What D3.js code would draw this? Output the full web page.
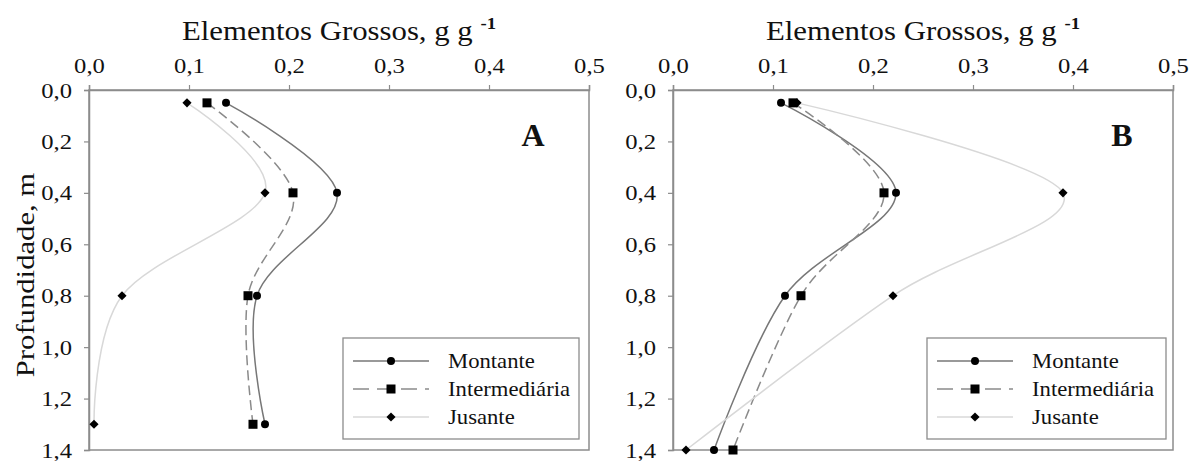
<!DOCTYPE html>
<html>
<head>
<meta charset="utf-8">
<script src="https://cdn.jsdelivr.net/npm/d3@7"></script>
<style>
  body { margin: 0; background: #fff; }
  svg { display: block; }
  text { font-family: "Liberation Serif", "Times New Roman", serif; fill: #111; }
</style>
</head>
<body>
<svg id="chart" width="1199" height="461"></svg>
<script>
// Series and tick values
const seriesNames = ["Montante", "Intermediária", "Jusante"];
const xTicks = [0, 0.1, 0.2, 0.3, 0.4, 0.5];
const yTicks = [0, 0.2, 0.4, 0.6, 0.8, 1.0, 1.2, 1.4];

const depthA = [0.05, 0.4, 0.8, 1.3];
const montanteA = [0.137, 0.248, 0.168, 0.176];
const intermediariaA = [0.118, 0.204, 0.159, 0.164];
const jusanteA = [0.098, 0.176, 0.033, 0.005];

const depthB = [0.05, 0.4, 0.8, 1.4];
const montanteB = [0.108, 0.223, 0.112, 0.041];
const intermediariaB = [0.120, 0.211, 0.128, 0.060];
const jusanteB = [0.124, 0.390, 0.220, 0.013];

const xTitle = "Elementos Grossos, g g ";
const xTitleSup = "-1";
const yTitle = "Profundidade, m";

// Styles per series
const styles = [
  { stroke: "#777", dash: null, symbol: "circle" },
  { stroke: "#8a8a8a", dash: "10,5", symbol: "square" },
  { stroke: "#d8d8d8", dash: null, symbol: "diamond" }
];

const svg = d3.select("#chart");
const fmt = v => d3.format(".1f")(v).replace(".", ",");

function marker(g, type, x, y) {
  if (type === "circle") {
    g.append("circle").attr("cx", x).attr("cy", y).attr("r", 4).attr("fill", "#000");
  } else if (type === "square") {
    g.append("rect").attr("x", x - 4.5).attr("y", y - 4.5).attr("width", 9).attr("height", 9).attr("fill", "#000");
  } else {
    g.append("path")
      .attr("d", d3.symbol(d3.symbolSquare, 42)())
      .attr("transform", `translate(${x},${y}) rotate(45)`)
      .attr("fill", "#000");
  }
}

function panel(opts) {
  const { left, right, top, bottom, depth, series, letter, legend, showYTitle } = opts;
  const x = d3.scaleLinear().domain([0, 0.5]).range([left, right]);
  const y = d3.scaleLinear().domain([0, 1.4]).range([top, bottom]);
  const g = svg.append("g");

  // frame
  g.append("rect")
    .attr("x", left).attr("y", top)
    .attr("width", right - left).attr("height", bottom - top)
    .attr("fill", "none").attr("stroke", "#8c8c8c").attr("stroke-width", 1.5);

  // top axis
  const TS = 1.12;
  const ax = g.append("g").attr("transform", `translate(0,${top})`)
    .call(d3.axisTop(x).tickValues(xTicks).tickSize(5).tickPadding(12).tickFormat(fmt));
  ax.select(".domain").attr("stroke", "#8c8c8c").attr("stroke-width", 1.5);
  ax.selectAll(".tick line").attr("stroke", "#8c8c8c").attr("stroke-width", 1.2);
  ax.selectAll(".tick text")
    .attr("font-size", 22).attr("fill", "#111")
    .attr("transform", `scale(${TS},1)`);

  // left axis
  const ay = g.append("g").attr("transform", `translate(${left},0)`)
    .call(d3.axisLeft(y).tickValues(yTicks).tickSize(5).tickPadding(12).tickFormat(fmt));
  ay.select(".domain").attr("stroke", "#8c8c8c").attr("stroke-width", 1.5);
  ay.selectAll(".tick line").attr("stroke", "#8c8c8c").attr("stroke-width", 1.2);
  ay.selectAll(".tick text")
    .attr("font-size", 22).attr("fill", "#111")
    .attr("x", -17 / TS)
    .attr("transform", `scale(${TS},1)`);

  // axis title with superscript
  const t = g.append("text")
    .attr("transform", `translate(${(left + right) / 2},40) scale(1.1,1)`)
    .attr("text-anchor", "middle").attr("font-size", 28);
  t.append("tspan").text(xTitle);
  t.append("tspan").text(xTitleSup).attr("font-size", 17).attr("font-weight", "bold").attr("dy", -11);

  if (showYTitle) {
    g.append("text")
      .attr("transform", `translate(34,${(top + bottom) / 2 + 5}) rotate(-90) scale(1.18,1)`)
      .attr("text-anchor", "middle").attr("font-size", 26)
      .text(yTitle);
  }

  // smoothed lines
  const line = d3.line()
    .x(d => x(d[0])).y(d => y(d[1]))
    .curve(d3.curveCatmullRom.alpha(0));
  series.forEach((vals, i) => {
    const pts = vals.map((v, j) => [v, depth[j]]);
    g.append("path")
      .attr("d", line(pts))
      .attr("fill", "none")
      .attr("stroke", styles[i].stroke)
      .attr("stroke-width", 1.5)
      .attr("stroke-dasharray", styles[i].dash);
  });
  series.forEach((vals, i) => {
    vals.forEach((v, j) => marker(g, styles[i].symbol, x(v), y(depth[j])));
  });

  // panel letter
  g.append("text")
    .attr("x", letter.x).attr("y", 146)
    .attr("text-anchor", "middle").attr("font-size", 32).attr("font-weight", "bold")
    .text(letter.text);

  // legend
  const lg = g.append("g");
  lg.append("rect")
    .attr("x", legend.x).attr("y", 338)
    .attr("width", legend.w).attr("height", 101)
    .attr("fill", "#fff").attr("stroke", "#8c8c8c").attr("stroke-width", 1.3);
  const rows = [361, 389, 417];
  seriesNames.forEach((name, i) => {
    const ry = rows[i];
    const x0 = legend.x + 10, x1 = legend.x + 86, xm = (x0 + x1) / 2;
    lg.append("line")
      .attr("x1", x0).attr("x2", x1).attr("y1", ry).attr("y2", ry)
      .attr("stroke", styles[i].stroke).attr("stroke-width", 1.5)
      .attr("stroke-dasharray", styles[i].dash ? "16,8" : null);
    marker(lg, styles[i].symbol, xm, ry);
    lg.append("text")
      .attr("transform", `translate(${legend.x + 105},${ry + 7}) scale(1.08,1)`)
      .attr("font-size", 21)
      .text(name);
  });
}

panel({
  left: 89, right: 589, top: 90, bottom: 450,
  depth: depthA,
  series: [montanteA, intermediariaA, jusanteA],
  letter: { text: "A", x: 533 },
  legend: { x: 343, w: 236 },
  showYTitle: true
});

panel({
  left: 673, right: 1173, top: 90, bottom: 450,
  depth: depthB,
  series: [montanteB, intermediariaB, jusanteB],
  letter: { text: "B", x: 1122 },
  legend: { x: 927, w: 239 },
  showYTitle: false
});
</script>
</body>
</html>
